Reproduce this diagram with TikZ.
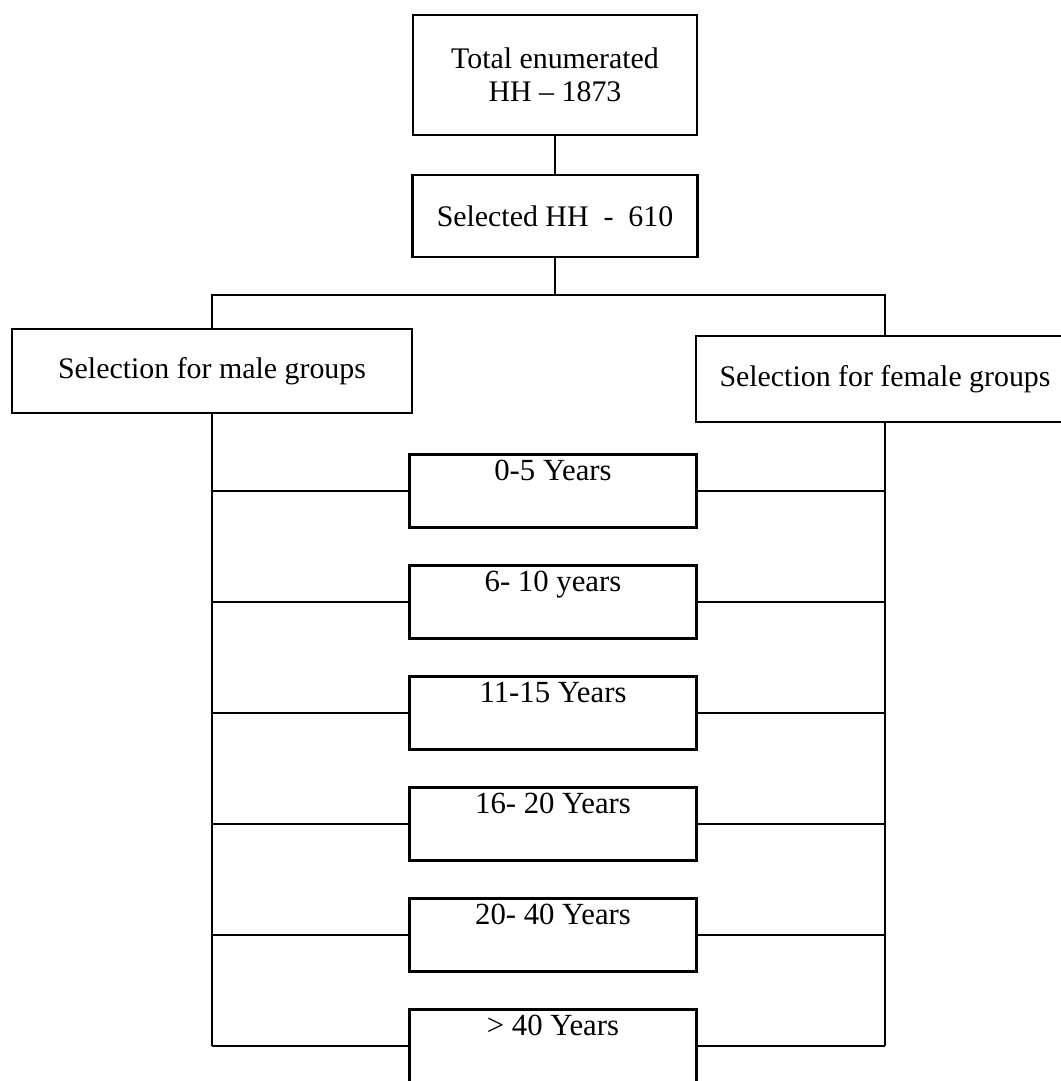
\documentclass[tikz,border=0pt]{standalone}
\usepackage{fontspec}
\setmainfont{Liberation Serif}
\tikzset{>=stealth}

\begin{document}
\begin{tikzpicture}[x=0.2mm, y=-0.2mm, line width=1.2pt,
    box/.style={draw, align=center, font=\fontsize{17}{19}\selectfont},
    agebox/.style={draw, minimum width=5.74cm, minimum height=1.46cm},
    agetext/.style={anchor=north, font=\fontsize{17.5}{20}\selectfont}]
    \useasboundingbox (0,0) rectangle (1061,1081);
    \clip (0,0) rectangle (1061,1081);
    % top of the tree
    \node[box, minimum width=5.68cm, minimum height=2.4cm] (total) at (555,75) {Total enumerated\\HH -- 1873};
    \node[box, minimum width=5.7cm, minimum height=1.64cm] (sel) at (555,216) {Selected HH \ - \ 610};
    \node[box, minimum width=8cm, minimum height=1.68cm] (male) at (212,371) {Selection for male groups};
    \node[box, minimum width=7.56cm, minimum height=1.72cm] (female) at (885,379) {Selection for female groups};
    \coordinate (split) at (555,295);
    \draw (total) -- (sel);
    \draw (sel) -- (split);
    \draw (male.north) |- (split) -| (female.north);
    % age groups
    \foreach \t [count=\i] in {0-5 Years, 6- 10 years, 11-15 Years, 16- 20 Years, 20- 40 Years, > 40 Years}
        \node[agebox, label={[agetext]north:\t}] (age\i) at (553,{380+111*\i}) {};
    \foreach \i in {1,...,6} {
        \draw (male.south |- age\i.west) -- (age\i.west);
        \draw (age\i.east) -- (female.south |- age\i.east);
    }
    \draw (male.south) -- (male.south |- age6.west);
    \draw (female.south) -- (female.south |- age6.east);
\end{tikzpicture}
\end{document}
